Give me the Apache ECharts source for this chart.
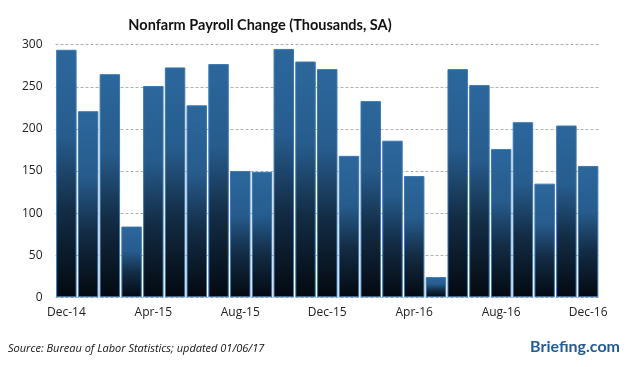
<!DOCTYPE html>
<html>
<head>
<meta charset="utf-8">
<script src="https://cdn.jsdelivr.net/npm/echarts@6/dist/echarts.min.js"></script>
<style>
html,body{margin:0;padding:0;background:#fff;}
#c{width:626px;height:367px;}
</style>
</head>
<body>
<div id="c"></div>
<script>
const categories = ["Dec-14","Jan-15","Feb-15","Mar-15","Apr-15","May-15","Jun-15","Jul-15","Aug-15","Sep-15","Oct-15","Nov-15","Dec-15","Jan-16","Feb-16","Mar-16","Apr-16","May-16","Jun-16","Jul-16","Aug-16","Sep-16","Oct-16","Nov-16","Dec-16"];
const payrollChange = [294,221,265,84,251,273,228,277,150,149,295,280,271,168,233,186,144,24,271,252,176,208,135,204,156];
const yTicks = [0,50,100,150,200,250,300];

const chart = echarts.init(document.getElementById('c'), null, {renderer:'canvas'});
const barGradient = new echarts.graphic.LinearGradient(0,0,0,1,[
  {offset:0, color:'#2c679c'},
  {offset:0.35, color:'#275c8d'},
  {offset:0.65, color:'#132c45'},
  {offset:1, color:'#030910'}
]);
chart.setOption({
  animation:false,
  backgroundColor:'#ffffff',
  title:{
    text:'Nonfarm Payroll Change (Thousands, SA)',
    left:255, top:13, textAlign:'center',
    textStyle:{fontFamily:'Lato, sans-serif', fontWeight:'bold', fontSize:14.5, color:'#111'}
  },
  graphic:[
    {type:'text', left:8, top:343, style:{text:'Source: Bureau of Labor Statistics; updated 01/06/17', font:'italic 11px "Open Sans", sans-serif', fill:'#111'}},
    {type:'text', right:6, top:339, style:{text:'Briefing.com', font:'bold 16px Lato, sans-serif', fill:'#1f5b97'}}
  ],
  grid:{left:55.5, right:27, top:44.7, bottom:69.7},
  xAxis:{
    type:'category', data:categories,
    axisLine:{show:false}, axisTick:{show:false},
    axisLabel:{interval:3, color:'#222', fontSize:12, fontFamily:'"Open Sans", sans-serif', margin:9}
  },
  yAxis:{
    type:'value', min:0, max:300, interval:50,
    axisLine:{show:false}, axisTick:{show:false},
    axisLabel:{color:'#222', fontSize:12, fontFamily:'"Open Sans", sans-serif', margin:13,
      formatter:function(v){return yTicks.indexOf(v)>=0 ? String(v) : '';}},
    splitLine:{lineStyle:{color:'#b0b0b0', type:[3,2], width:1}}
  },
  series:[{
    type:'bar', data:payrollChange, barCategoryGap:'6%',
    itemStyle:{color:barGradient, borderColor:'#3b78b2', borderWidth:1}
  }]
});
</script>
</body>
</html>
